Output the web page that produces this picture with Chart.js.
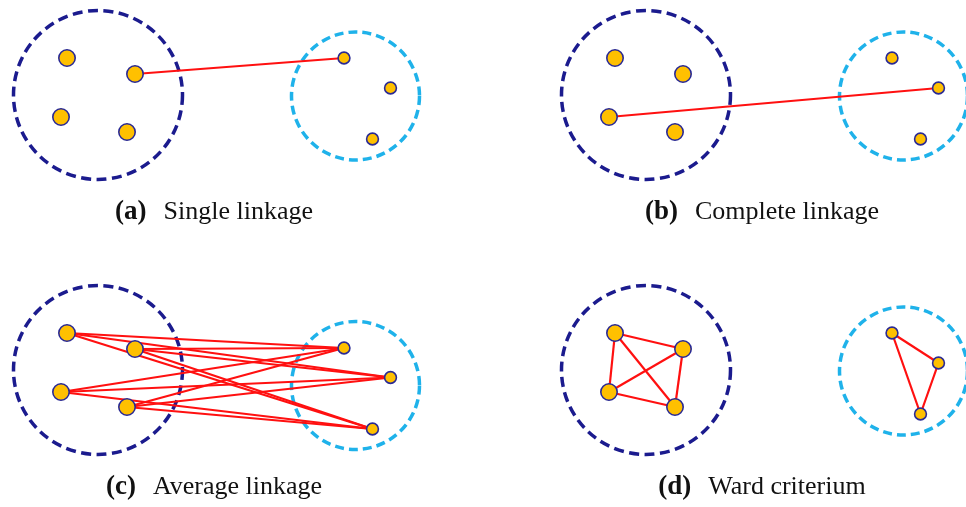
<!DOCTYPE html>
<html>
<head>
<meta charset="utf-8">
<script src="https://cdn.jsdelivr.net/npm/chart.js@4.4.1/dist/chart.umd.min.js"></script>
<style>
  html, body { margin: 0; padding: 0; background: #ffffff; overflow: hidden; }
  #wrap { position: relative; width: 966px; height: 507px; overflow: hidden; }
  .panel { position: absolute; }
  .panel canvas { display: block; }
  .cap {
    position: absolute; left: 0; width: 428px; text-align: center;
    font-family: "Liberation Serif", "DejaVu Serif", serif; font-size: 26px;
    line-height: 26px; color: #111; white-space: nowrap;
  }
  .cap b { margin-right: 17px; font-size: 27px; }
</style>
</head>
<body>
<div id="wrap"></div>
<script>
// Panel geometry (in panel units, 1 unit = 1 px)
const panelOrigins = [[0, 0], [548, 0], [0, 275], [548, 275]];
const panelHeight = 275;

// Cluster A (dark blue): four larger points
const clusterAX = [67, 135, 61, 127];
const clusterAY = [58, 74, 117, 132];
// Cluster B (light blue): three smaller points
const clusterBX = [344, 390.5, 372.5];
const clusterBY = [58, 88, 139];
const clusterBYAverage = [73, 102.5, 154];

// Enclosing circles: [cx, cy, r]
const circleA = [98, 95, 84.5];
const circleB = [355.5, 96, 64];
const circleBAverage = [355.5, 110.5, 64];

// Links drawn for each criterion, as [indexA, indexB] pairs
const singleLinks = [[1, 0]];
const completeLinks = [[2, 1]];
const averageLinks = [[0,0],[0,1],[0,2],[1,0],[1,1],[1,2],[2,0],[2,1],[2,2],[3,0],[3,1],[3,2]];
const wardLinksA = [[0,1],[0,2],[0,3],[1,2],[1,3],[2,3]];
const wardLinksB = [[0,1],[0,2],[1,2]];

const captionTags = ["(a)", "(b)", "(c)", "(d)"];
const captionTexts = ["Single linkage", "Complete linkage", "Average linkage", "Ward criterium"];

const DARK = "#1b1b8e";
const LIGHT = "#1fb2ea";
const FILL = "#ffc000";
const EDGE = "#2a2a94";
const RED = "#ff1010";

function pts(xs, ys) { return xs.map((x, i) => ({ x: x, y: ys[i] })); }

// Draws the dashed cluster boundaries underneath the datasets
const dashedCircles = {
  id: "dashedCircles",
  beforeDatasetsDraw(chart, args, opts) {
    const { ctx, scales } = chart;
    const xs = scales.x, ys = scales.y;
    ctx.save();
    (opts.circles || []).forEach(c => {
      const cx = xs.getPixelForValue(c.cx);
      const cy = ys.getPixelForValue(c.cy);
      const r = Math.abs(xs.getPixelForValue(c.cx + c.r) - cx);
      ctx.beginPath();
      ctx.setLineDash(c.dash);
      ctx.lineWidth = c.width;
      ctx.strokeStyle = c.color;
      ctx.arc(cx, cy, r, 0, Math.PI * 2);
      ctx.stroke();
    });
    ctx.restore();
  }
};

function linkDatasets(ax, ay, bx, by, links) {
  return links.map(([i, j]) => ({
    type: "line",
    data: [{ x: ax[i], y: ay[i] }, { x: bx[j], y: by[j] }],
    borderColor: RED, borderWidth: 2.2, pointRadius: 0,
    showLine: true, fill: false, order: 2, clip: false
  }));
}

function pointDataset(xs, ys, r) {
  return {
    type: "scatter",
    data: pts(xs, ys),
    backgroundColor: FILL, borderColor: EDGE, borderWidth: 1.6,
    pointRadius: r, pointHoverRadius: r, order: 0, clip: false
  };
}

const panels = [
  { bY: clusterBY, cB: circleB,
    links: linkDatasets(clusterAX, clusterAY, clusterBX, clusterBY, singleLinks) },
  { bY: clusterBY, cB: circleB,
    links: linkDatasets(clusterAX, clusterAY, clusterBX, clusterBY, completeLinks) },
  { bY: clusterBYAverage, cB: circleBAverage,
    links: linkDatasets(clusterAX, clusterAY, clusterBX, clusterBYAverage, averageLinks) },
  { bY: clusterBY, cB: circleB,
    links: linkDatasets(clusterAX, clusterAY, clusterAX, clusterAY, wardLinksA)
      .concat(linkDatasets(clusterBX, clusterBY, clusterBX, clusterBY, wardLinksB)) }
];

const wrap = document.getElementById("wrap");
panels.forEach((p, k) => {
  const [ox, oy] = panelOrigins[k];
  const w = Math.min(548, 966 - ox);
  const div = document.createElement("div");
  div.className = "panel";
  div.style.left = ox + "px";
  div.style.top = oy + "px";
  div.style.width = w + "px";
  div.style.height = panelHeight + "px";
  const canvas = document.createElement("canvas");
  canvas.width = w; canvas.height = panelHeight;
  div.appendChild(canvas);
  const cap = document.createElement("div");
  cap.className = "cap";
  cap.style.top = "197px";
  const b = document.createElement("b");
  b.textContent = captionTags[k];
  cap.appendChild(b);
  cap.appendChild(document.createTextNode(captionTexts[k]));
  div.appendChild(cap);
  wrap.appendChild(div);

  new Chart(canvas, {
    type: "scatter",
    data: {
      datasets: p.links.concat([
        pointDataset(clusterAX, clusterAY, 8.2),
        pointDataset(clusterBX, p.bY, 5.9)
      ])
    },
    options: {
      responsive: false,
      animation: false,
      devicePixelRatio: 1,
      layout: { padding: 0, autoPadding: false },
      events: [],
      scales: {
        x: { type: "linear", min: 0, max: w, display: false },
        y: { type: "linear", min: 0, max: panelHeight, reverse: true, display: false }
      },
      plugins: {
        legend: { display: false },
        tooltip: { enabled: false },
        dashedCircles: {
          circles: [
            { cx: circleA[0], cy: circleA[1], r: circleA[2], color: DARK, width: 3.5, dash: [10, 5.5] },
            { cx: p.cB[0], cy: p.cB[1], r: p.cB[2], color: LIGHT, width: 3.5, dash: [9, 5] }
          ]
        }
      }
    },
    plugins: [dashedCircles]
  });
});
</script>
</body>
</html>
